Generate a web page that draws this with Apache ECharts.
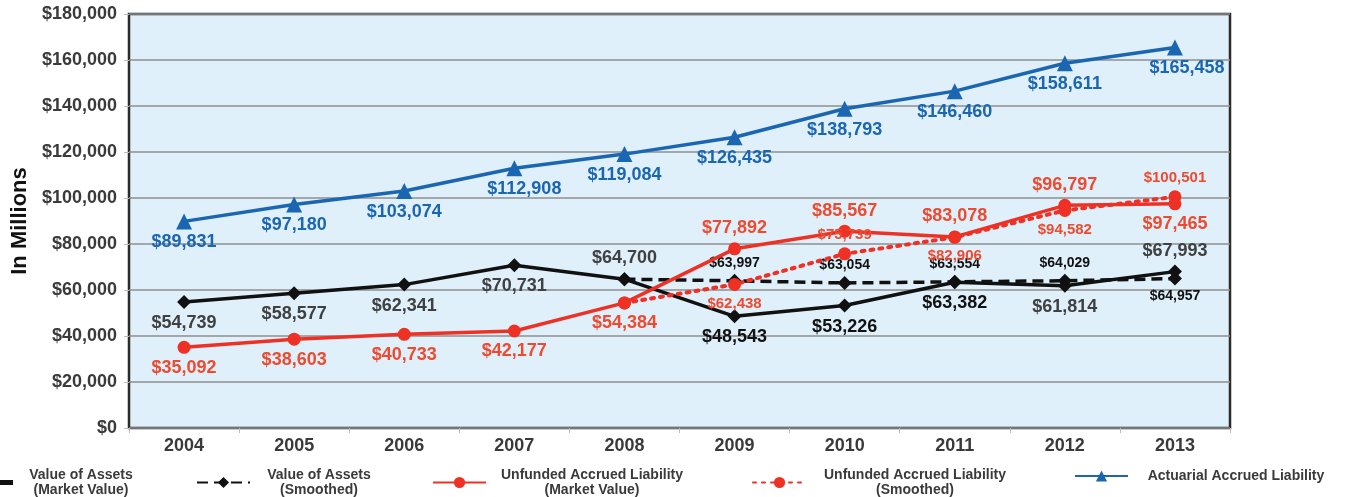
<!DOCTYPE html>
<html>
<head>
<meta charset="utf-8">
<script src="https://cdn.jsdelivr.net/npm/echarts@6/dist/echarts.min.js"></script>
<style>
  html, body { margin: 0; padding: 0; background: #fff; }
  #main { width: 1346px; height: 497px; }
</style>
</head>
<body>
<div id="main"></div>
<script>
// 数据
var years = ['2004', '2005', '2006', '2007', '2008', '2009', '2010', '2011', '2012', '2013'];
var assetsMarket = [54739, 58577, 62341, 70731, 64700, 48543, 53226, 63382, 61814, 67993];
var assetsSmoothed = [null, null, null, null, 64700, 63997, 63054, 63554, 64029, 64957];
var unfundedMarket = [35092, 38603, 40733, 42177, 54384, 77892, 85567, 83078, 96797, 97465];
var unfundedSmoothed = [null, null, null, null, 54384, 62438, 75739, 82906, 94582, 100501];
var actuarial = [89831, 97180, 103074, 112908, 119084, 126435, 138793, 146460, 158611, 165458];
var yTicks = [0, 20000, 40000, 60000, 80000, 100000, 120000, 140000, 160000, 180000];

// 标签位置 (t = 上, b = 下, - = 不显示)
var assetsMarketPos = ['b', 'b', 'b', 'b', 't', 'b', 'b', 'b', 'b', 't'];
var assetsSmoothedPos = ['-', '-', '-', '-', '-', 't', 't', 't', 't', 'b'];
var unfundedMarketPos = ['b', 'b', 'b', 'b', 'b', 't', 't', 't', 't', 'b'];
var unfundedSmoothedPos = ['-', '-', '-', '-', '-', 'b', 't', 'b', 'b', 't'];

var BLUE = '#1b66b1';
var RED = '#ee3124';
var BLACK = '#111111';
var FONT = '"Liberation Sans", Arial, sans-serif';

function money (v) {
  return '$' + String(v).replace(/\B(?=(\d{3})+(?!\d))/g, ',');
}

function buildData (values, pos, labelExtra) {
  return values.map(function (v, i) {
    if (v === null) return null;
    var p = pos[i];
    var item = { value: v, label: { show: p !== '-', position: p === 't' ? 'top' : 'bottom' } };
    if (labelExtra && labelExtra[i]) Object.assign(item.label, labelExtra[i]);
    return item;
  });
}

// 黑色的几个标签
var assetsMarketExtra = [];
assetsMarketExtra[5] = { color: '#111' };
assetsMarketExtra[6] = { color: '#111' };
assetsMarketExtra[7] = { color: '#111' };
var actuarialExtra = [];
actuarialExtra[3] = { offset: [10, 0] };
actuarialExtra[9] = { offset: [12, 0] };

var myChart = echarts.init(document.getElementById('main'));

function legendItem (name, left, width, lines, extra) {
  var fmt = lines.map(function (l) { return '{t|' + l + '}'; }).join('\n');
  var lg = {
    data: [name],
    left: left,
    top: 468,
    itemWidth: 53,
    itemHeight: 14,
    itemGap: 0,
    padding: 0,
    selectedMode: false,
    formatter: function () { return fmt; },
    textStyle: {
      rich: {
        t: { width: width, align: 'center', fontFamily: FONT, fontSize: 14, fontWeight: 'bold', color: '#3a3a3a', lineHeight: 15 }
      }
    }
  };
  if (extra) Object.assign(lg, extra);
  return lg;
}

var option = {
  animation: false,
  textStyle: { fontFamily: FONT },
  grid: {
    left: 129,
    right: 116,
    top: 14,
    bottom: 69,
    show: true,
    backgroundColor: '#dff0fb',
    borderColor: '#2e2a28',
    borderWidth: 2.5
  },
  legend: [
    legendItem('Value of Assets (Market Value)', -40, 126, ['Value of Assets', '(Market Value)'], {
      data: [{ name: 'Value of Assets (Market Value)', icon: 'rect' }], itemHeight: 5
    }),
    legendItem('Value of Assets (Smoothed)', 196, 128, ['Value of Assets', '(Smoothed)']),
    legendItem('Unfunded Accrued Liability (Market Value)', 432, 202, ['Unfunded Accrued Liability', '(Market Value)']),
    legendItem('Unfunded Accrued Liability (Smoothed)', 752, 208, ['Unfunded Accrued Liability', '(Smoothed)']),
    legendItem('Actuarial Accrued Liability', 1074, 206, ['Actuarial Accrued Liability'], { top: 469 })
  ],
  xAxis: {
    type: 'category',
    data: years,
    axisLine: { show: false },
    axisTick: { show: true, length: 5, lineStyle: { color: '#bbb' } },
    axisLabel: { color: '#3a3a3a', fontSize: 18, fontWeight: 'bold', margin: 9, fontFamily: FONT }
  },
  yAxis: {
    type: 'value',
    min: 0,
    max: 180000,
    interval: 20000,
    name: 'In Millions',
    nameLocation: 'middle',
    nameRotate: 90,
    nameGap: 96,
    nameTextStyle: { fontSize: 22, fontWeight: 'bold', color: '#111', fontFamily: FONT },
    axisLine: { show: false },
    axisTick: { show: true, length: 5, lineStyle: { color: '#bbb' } },
    axisLabel: {
      color: '#3a3a3a', fontSize: 18, fontWeight: 'bold', margin: 12, fontFamily: FONT,
      formatter: function (v) { return yTicks.indexOf(v) >= 0 ? money(v) : ''; }
    },
    splitLine: { lineStyle: { color: '#8f8f8f', width: 1.5 } }
  },
  series: [
    {
      name: 'Value of Assets (Market Value)',
      type: 'line',
      data: buildData(assetsMarket, assetsMarketPos, assetsMarketExtra),
      symbol: 'diamond',
      symbolSize: 14,
      lineStyle: { color: BLACK, width: 3.5 },
      itemStyle: { color: BLACK },
      label: { color: '#404040', fontSize: 18, fontWeight: 'bold', distance: 5, formatter: function (p) { return money(p.value); } },
      z: 3
    },
    {
      name: 'Value of Assets (Smoothed)',
      type: 'line',
      data: buildData(assetsSmoothed, assetsSmoothedPos),
      symbol: 'diamond',
      symbolSize: 14,
      lineStyle: { color: BLACK, width: 3.5, type: [11, 6] },
      itemStyle: { color: BLACK },
      label: { color: '#111', fontSize: 14, fontWeight: 'bold', distance: 4, formatter: function (p) { return money(p.value); } },
      z: 4
    },
    {
      name: 'Unfunded Accrued Liability (Market Value)',
      type: 'line',
      data: buildData(unfundedMarket, unfundedMarketPos),
      symbol: 'circle',
      symbolSize: 13,
      lineStyle: { color: RED, width: 3.5 },
      itemStyle: { color: RED },
      label: { color: '#ee4a2f', fontSize: 18, fontWeight: 'bold', distance: 5, formatter: function (p) { return money(p.value); } },
      z: 5
    },
    {
      name: 'Unfunded Accrued Liability (Smoothed)',
      type: 'line',
      data: buildData(unfundedSmoothed, unfundedSmoothedPos),
      symbol: 'circle',
      symbolSize: 13,
      lineStyle: { color: RED, width: 4, type: [3, 6], cap: 'round' },
      itemStyle: { color: RED },
      label: { color: '#ee4a2f', fontSize: 15, fontWeight: 'bold', distance: 5, formatter: function (p) { return money(p.value); } },
      z: 6
    },
    {
      name: 'Actuarial Accrued Liability',
      type: 'line',
      data: buildData(actuarial, actuarial.map(function () { return 'b'; }), actuarialExtra),
      symbol: 'triangle',
      symbolSize: 16,
      lineStyle: { color: BLUE, width: 3.5 },
      itemStyle: { color: BLUE },
      label: { color: BLUE, fontSize: 18, fontWeight: 'bold', distance: 4, formatter: function (p) { return money(p.value); } },
      z: 7
    }
  ]
};

myChart.setOption(option);
window.addEventListener('resize', function () {
  myChart.resize();
});
</script>
</body>
</html>
